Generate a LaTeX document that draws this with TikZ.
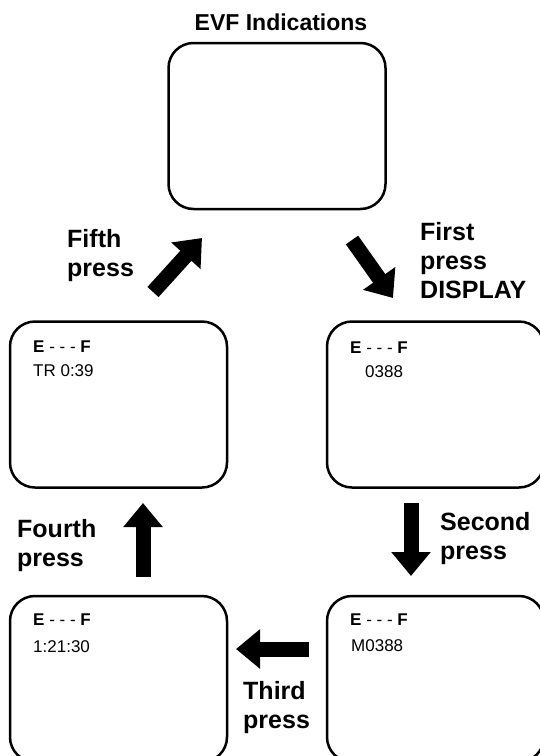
\documentclass[tikz,border=0pt]{standalone}
\usepackage{fontspec}
\setmainfont{Liberation Sans}
\usetikzlibrary{arrows.meta}

\begin{document}
\begin{tikzpicture}[x=1pt,y=-1pt,
  screen/.style={draw,line width=2.5pt,rounded corners=25pt,minimum width=217pt,
    minimum height=166pt,inner sep=0pt},
  readout/.style={anchor=base west,inner sep=0pt,font=\fontsize{17}{20}\selectfont},
  presslabel/.style={anchor=north west,inner sep=0pt,align=left,
    font=\bfseries\fontsize{25}{29}\selectfont},
  press/.style={-{Triangle[width=38pt,length=24pt]},line width=15pt}]
  \useasboundingbox (0,0) rectangle (540,756);
  \node[anchor=base,inner sep=0pt,font=\bfseries\fontsize{23}{27}\selectfont] (title)
    at (281,30) {EVF Indications};
  \node[screen] (evf) at (277,126) {};
  \node[screen] (firstscr) at (435.5,404.5) {};
  \node[screen] (secondscr) at (435.5,679) {};
  \node[screen] (thirdscr) at (118.5,679) {};
  \node[screen] (fourthscr) at (118.5,404.5) {};
  \node[readout] (firstE) at (350,353) {\textbf{E} - - - \textbf{F}};
  \node[readout] (firstval) at (365,377) {0388};
  \node[readout] (secondE) at (350,625) {\textbf{E} - - - \textbf{F}};
  \node[readout] (secondval) at (351,651) {M0388};
  \node[readout] (thirdE) at (33,625) {\textbf{E} - - - \textbf{F}};
  \node[readout] (thirdval) at (33,652) {1:21:30};
  \node[readout] (fourthE) at (33,352) {\textbf{E} - - - \textbf{F}};
  \node[readout] (fourthval) at (33,376) {TR 0:39};
  \coordinate (a1s) at (352,240); \coordinate (a1e) at (393,298);
  \coordinate (a2s) at (411,503); \coordinate (a2e) at (411,576);
  \coordinate (a3s) at (309,649); \coordinate (a3e) at (236,649);
  \coordinate (a4s) at (143,577); \coordinate (a4e) at (143,503);
  \coordinate (a5s) at (153,292); \coordinate (a5e) at (202,238);
  \draw[press] (a1s) -- (a1e);
  \draw[press] (a2s) -- (a2e);
  \draw[press] (a3s) -- (a3e);
  \draw[press] (a4s) -- (a4e);
  \draw[press] (a5s) -- (a5e);
  \node[presslabel] (firstlbl) at (420,222) {First\\press\\DISPLAY};
  \node[presslabel] (secondlbl) at (440,512) {Second\\press};
  \node[presslabel] (thirdlbl) at (243,681) {Third\\press};
  \node[presslabel] (fourthlbl) at (17,519) {Fourth\\press};
  \node[presslabel] (fifthlbl) at (67,229) {Fifth\\press};
\end{tikzpicture}
\end{document}
